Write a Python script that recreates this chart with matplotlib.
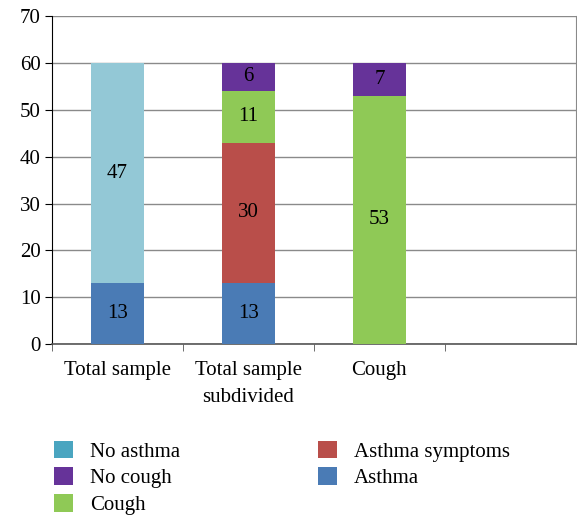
import numpy as np
import matplotlib
matplotlib.use("Agg")
import matplotlib.pyplot as plt
from matplotlib.patches import Patch

plt.rcParams["font.family"] = ["Liberation Serif", "DejaVu Serif"]

categories = ["Total sample", "Total sample\nsubdivided", "Cough", ""]
asthma = [13, 13, 0, 0]
no_asthma = [47, 0, 0, 0]
asthma_symptoms = [0, 30, 0, 0]
cough = [0, 11, 53, 0]
no_cough = [0, 6, 7, 0]

series = [
    ("Asthma", asthma, "#4a7bb5"),
    ("No asthma", no_asthma, "#93c8d6"),
    ("Asthma symptoms", asthma_symptoms, "#b94e4a"),
    ("Cough", cough, "#8fc956"),
    ("No cough", no_cough, "#663399"),
]
legend_colors = {"No asthma": "#4aa5c0"}

fig = plt.figure(figsize=(5.77, 5.16), dpi=100)
ax = fig.add_axes([0.090, 0.333, 0.908, 0.636])

x = np.arange(len(categories))
bottom = np.zeros(len(categories))
for name, vals, col in series:
    vals = np.array(vals, dtype=float)
    ax.bar(x, vals, 0.4, bottom=bottom, color=col, zorder=3)
    for xi, v, b in zip(x, vals, bottom):
        if v > 0:
            ax.text(xi, b + v / 2, f"{v:g}", ha="center", va="center",
                    fontsize=15, color="black", zorder=4)
    bottom += vals

ax.set_xlim(-0.5, 3.5)
ax.set_ylim(0, 70)
ax.set_yticks(range(0, 71, 10))
ax.yaxis.grid(True, color="#8a8a8a", linewidth=1, zorder=0)
ax.set_axisbelow(True)

ax.set_xticks(x)
ax.set_xticklabels(categories, fontsize=15, linespacing=1.6)
ax.set_xticks(np.arange(-0.5, 3.0, 1), minor=True)
ax.tick_params(axis="x", which="major", length=0, pad=12)
ax.tick_params(axis="x", which="minor", length=5, color="#555555")
ax.tick_params(axis="y", length=5, labelsize=15, pad=3)

ax.spines["top"].set_visible(False)
ax.spines["right"].set_color("#8a8a8a")
ax.spines["left"].set_color("black")
ax.spines["bottom"].set_color("#555555")
ax.spines["bottom"].set_linewidth(1.2)

# legend: three entries in the first column, two in the second
order = ["No asthma", "No cough", "Cough", "Asthma symptoms", "Asthma"]
cmap = {n: c for n, _, c in series}
handles = [Patch(facecolor=legend_colors.get(n, cmap[n]), label=n) for n in order]
fig.legend(handles=handles, loc="upper left", bbox_to_anchor=(0.0936, 0.146),
           ncol=2, frameon=False, fontsize=15, handlelength=0.91,
           handleheight=0.91, handletextpad=0.82, columnspacing=6.6,
           labelspacing=0.28, borderaxespad=0, borderpad=0)

fig.savefig("out.png", dpi=100)
